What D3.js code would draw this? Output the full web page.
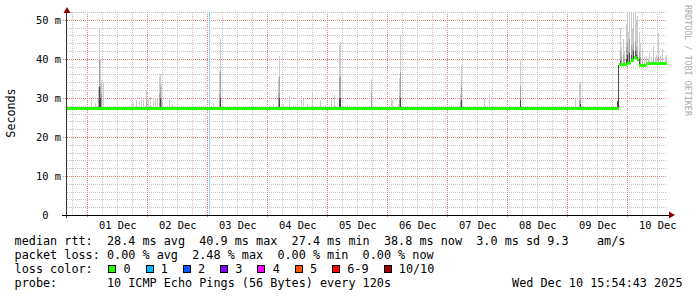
<!DOCTYPE html>
<html>
<head>
<meta charset="utf-8">
<script src="https://cdn.jsdelivr.net/npm/d3@7/dist/d3.min.js"></script>
<style>
  body { margin: 0; background: #fff; }
  svg text { font-family: "DejaVu Sans Mono", monospace; white-space: pre; }
</style>
</head>
<body>
<div id="chart"></div>
<script>
// Time window of the graph (10 days up to the moment it was made)
var startTime = "2025-11-30T15:54:43";
var endTime = "2025-12-10T15:54:43";

// Day labels sit at noon of each day
var dayNoons = ["2025-12-01T12:00", "2025-12-02T12:00", "2025-12-03T12:00", "2025-12-04T12:00", "2025-12-05T12:00",
                "2025-12-06T12:00", "2025-12-07T12:00", "2025-12-08T12:00", "2025-12-09T12:00", "2025-12-10T12:00"];

var yTicks = [0, 10, 20, 30, 40, 50];
var yTickLabels = ["0  ", "10 m", "20 m", "30 m", "40 m", "50 m"];

// Median rtt in ms, each value holds until the next time
var medianTimes = ["2025-11-30T15:54", "2025-12-09T20:42", "2025-12-09T23:54", "2025-12-10T01:31",
                   "2025-12-10T02:43", "2025-12-10T03:55", "2025-12-10T04:43", "2025-12-10T07:43"];
var medianValues = [27.3, 38.5, 38.9, 39.6, 40.3, 39.8, 38.3, 38.8];

// Smoke columns: time, highest ping, mid shade top, dark core top (ms)
var smoke = [
  ["2025-12-01T01:47", 29.7], ["2025-12-01T03:14", 28.8], ["2025-12-01T04:26", 32.9, 30.0],
  ["2025-12-01T04:50", 47.9, 39.7, 32.9], ["2025-12-01T05:14", 40.0, 33.0, 30.0], ["2025-12-01T05:48", 34.2, 31.0],
  ["2025-12-01T06:35", 33.8], ["2025-12-01T17:47", 28.5], ["2025-12-01T18:42", 28.7], ["2025-12-01T19:42", 29.5],
  ["2025-12-01T20:59", 29.1], ["2025-12-01T21:54", 30.3], ["2025-12-01T22:25", 29.4], ["2025-12-01T23:37", 31.9, 29.0],
  ["2025-12-02T00:42", 29.7], ["2025-12-02T01:30", 30.3], ["2025-12-02T02:25", 29.2], ["2025-12-02T03:23", 30.0],
  ["2025-12-02T04:01", 29.6], ["2025-12-02T04:49", 35.4, 31.0], ["2025-12-02T05:13", 36.2, 32.9, 30.0],
  ["2025-12-02T05:47", 33.5, 30.0], ["2025-12-02T06:18", 29.0], ["2025-12-02T09:06", 29.9], ["2025-12-02T10:06", 28.4],
  ["2025-12-03T02:26", 28.6], ["2025-12-03T04:49", 37.0, 31.0], ["2025-12-03T05:13", 45.1, 37.0, 30.0],
  ["2025-12-04T02:26", 28.4], ["2025-12-04T04:31", 35.0, 31.0], ["2025-12-04T04:50", 40.8, 35.6, 30.0],
  ["2025-12-04T06:26", 28.5], ["2025-12-04T08:50", 30.5], ["2025-12-04T13:47", 30.5], ["2025-12-04T14:26", 29.6],
  ["2025-12-04T16:02", 28.5], ["2025-12-04T18:02", 31.4], ["2025-12-04T21:14", 29.4], ["2025-12-04T23:23", 28.3],
  ["2025-12-05T01:38", 29.6], ["2025-12-05T02:50", 30.8], ["2025-12-05T04:50", 43.5, 35.0, 30.0],
  ["2025-12-05T05:14", 44.3, 35.5, 30.0], ["2025-12-05T07:07", 28.3], ["2025-12-05T17:38", 34.9, 31.0],
  ["2025-12-06T01:31", 29.8], ["2025-12-06T02:02", 29.4], ["2025-12-06T04:26", 28.4], ["2025-12-06T04:55", 35.0, 30.5],
  ["2025-12-06T05:14", 46.2, 36.7, 30.0], ["2025-12-07T01:47", 28.3], ["2025-12-07T05:07", 31.0, 29.0],
  ["2025-12-07T05:31", 38.5, 32.9, 29.5], ["2025-12-07T14:50", 29.7], ["2025-12-07T16:50", 30.9],
  ["2025-12-08T05:23", 39.6, 33.0, 29.5], ["2025-12-09T03:23", 29.7], ["2025-12-09T04:59", 33.5, 29.5],
  ["2025-12-09T05:23", 34.0, 30.0, 28.5], ["2025-12-09T20:18", 29.1, 29.1, 29.1], ["2025-12-09T20:41", 38.5, 38.5, 38.5],
  ["2025-12-09T21:14", 47.9, 42.0, 39.5], ["2025-12-09T21:47", 43.0, 40.5], ["2025-12-09T22:19", 45.0, 41.0],
  ["2025-12-09T22:55", 42.0, 40.0], ["2025-12-09T23:31", 49.0, 43.0, 40.0], ["2025-12-10T00:02", 51.8, 44.0, 41.0],
  ["2025-12-10T00:31", 47.0, 42.0], ["2025-12-10T00:59", 51.8, 45.0, 41.5], ["2025-12-10T01:31", 51.8, 43.5, 41.0],
  ["2025-12-10T02:02", 48.0, 42.5], ["2025-12-10T02:31", 51.8, 44.0, 42.0], ["2025-12-10T03:07", 51.8, 44.5, 42.0],
  ["2025-12-10T03:38", 50.0, 43.0, 41.0], ["2025-12-10T04:07", 51.0, 42.5, 40.5], ["2025-12-10T04:43", 47.0, 42.0, 40.0],
  ["2025-12-10T05:19", 44.0, 40.5], ["2025-12-10T05:55", 42.0, 39.5], ["2025-12-10T06:43", 40.5],
  ["2025-12-10T07:31", 40.8], ["2025-12-10T08:19", 40.2], ["2025-12-10T08:55", 41.5], ["2025-12-10T09:31", 40.5],
  ["2025-12-10T10:26", 43.2, 40.0], ["2025-12-10T11:07", 40.5], ["2025-12-10T11:43", 41.0],
  ["2025-12-10T12:26", 46.6, 40.5], ["2025-12-10T13:07", 40.8], ["2025-12-10T14:07", 42.5],
  ["2025-12-10T15:07", 40.5], ["2025-12-10T15:43", 41.0]
];

// Marker line
var markerTimes = ["2025-12-03T00:42"];

// Legend
var rttLine = "median rtt:  28.4 ms avg  40.9 ms max  27.4 ms min  38.8 ms now  3.0 ms sd 9.3    am/s";
var lossLine = "packet loss: 0.00 % avg  2.48 % max  0.00 % min  0.00 % now";
var lossLabels = ["0", "1", "2", "3", "4", "5", "6-9", "10/10"];
var lossColors = ["#26ff00", "#00b8ff", "#0059ff", "#7e00ff", "#ff00ff", "#ff5500", "#ff0000", "#a10000"];
var probeLine = "probe:       10 ICMP Echo Pings (56 Bytes) every 120s";
var stampText = "Wed Dec 10 15:54:43 2025";

var width = 697, height = 297;
var plotLeft = 67, plotRight = 667, plotTop = 12, plotBottom = 215;

var svg = d3.select("#chart").append("svg")
  .attr("width", width)
  .attr("height", height)
  .style("display", "block");

svg.append("rect").attr("width", width).attr("height", height).attr("fill", "#fff");

var parse = function(s) { return new Date(s); };
var x = d3.scaleTime().domain([parse(startTime), parse(endTime)]).range([plotLeft, plotRight]);
var y = d3.scaleLinear().domain([0, 52]).range([plotBottom, plotTop]);
var px = function(v) { return Math.round(v) + 0.5; };

// Grid
var grid = svg.append("g").attr("shape-rendering", "crispEdges");
var sixHours = d3.timeHour.every(6).range(parse(startTime), parse(endTime));
sixHours.forEach(function(t) {
  var major = t.getHours() === 0;
  grid.append("line")
    .attr("x1", px(x(t))).attr("x2", px(x(t)))
    .attr("y1", plotTop).attr("y2", major ? plotBottom + 3 : plotBottom)
    .attr("stroke", major ? "#e67c7c" : "#c4c4c4")
    .attr("stroke-dasharray", "1,1");
});
d3.range(2, 53, 2).forEach(function(v) {
  var major = v % 10 === 0;
  grid.append("line")
    .attr("x1", major ? plotLeft - 4 : plotLeft).attr("x2", plotRight)
    .attr("y1", px(y(v))).attr("y2", px(y(v)))
    .attr("stroke", major ? "#e67c7c" : "#c4c4c4")
    .attr("stroke-dasharray", "1,1");
});

// Marker
svg.selectAll(".marker").data(markerTimes).enter().append("line")
  .attr("x1", function(d) { return px(x(parse(d))); })
  .attr("x2", function(d) { return px(x(parse(d))); })
  .attr("y1", plotTop).attr("y2", plotBottom)
  .attr("stroke", "#93d2f0")
  .attr("shape-rendering", "crispEdges");

// median at a given time
var medianDates = medianTimes.map(parse);
function medianAt(t) {
  var i = d3.bisectRight(medianDates, t) - 1;
  return medianValues[Math.max(0, i)];
}

// Smoke
var smokeG = svg.append("g").attr("shape-rendering", "crispEdges");
var shades = [[1, "#cbcbcb"], [2, "#a4a4a4"], [3, "#4a4a4a"]];
smoke.forEach(function(d) {
  var t = parse(d[0]);
  var low = medianAt(t) - 0.3;
  var cx = Math.floor(x(t));
  shades.forEach(function(s) {
    var v = d[s[0]];
    if (v == null) return;
    smokeG.append("rect")
      .attr("x", cx).attr("width", 1)
      .attr("y", y(v)).attr("height", y(low) - y(v))
      .attr("fill", s[1]);
  });
});

// Median line, drawn as flat pieces
var medianG = svg.append("g");
medianTimes.forEach(function(t, i) {
  var t1 = i + 1 < medianTimes.length ? medianTimes[i + 1] : endTime;
  medianG.append("line")
    .attr("x1", x(parse(t))).attr("x2", x(parse(t1)))
    .attr("y1", y(medianValues[i])).attr("y2", y(medianValues[i]))
    .attr("stroke", lossColors[0])
    .attr("stroke-width", 3);
});

// Axes lines and arrows
var axisG = svg.append("g").attr("shape-rendering", "crispEdges");
axisG.append("line").attr("x1", plotLeft - 0.5).attr("x2", plotLeft - 0.5)
  .attr("y1", plotBottom + 3).attr("y2", plotTop - 2)
  .attr("stroke", "#333");
axisG.append("line").attr("x1", plotLeft - 5).attr("x2", plotRight + 3)
  .attr("y1", plotBottom + 0.5).attr("y2", plotBottom + 0.5)
  .attr("stroke", "#000");
svg.append("path").attr("d", "M63.5,13 L70.5,13 L67,7 Z").attr("fill", "#8f0000");
svg.append("path").attr("d", "M669,211.5 L669,218.5 L675,215 Z").attr("fill", "#8f0000");

// Tick labels via d3 axes
var xAxis = d3.axisBottom(x)
  .tickValues(dayNoons.map(parse))
  .tickFormat(d3.timeFormat("%d %b"))
  .tickSize(0);
var xg = svg.append("g").attr("transform", "translate(0," + plotBottom + ")").call(xAxis);
xg.select(".domain").remove();
xg.selectAll("text").attr("y", 13.5).attr("dy", null)
  .attr("font-size", "10.4px").attr("font-family", "DejaVu Sans Mono").attr("fill", "#000");

var yAxis = d3.axisLeft(y)
  .tickValues(yTicks)
  .tickFormat(function(d, i) { return yTickLabels[i]; })
  .tickSize(0).tickPadding(0);
var yg = svg.append("g").attr("transform", "translate(61,0)").call(yAxis);
yg.select(".domain").remove();
yg.selectAll("text").attr("x", 0).attr("dy", null).attr("y", 3.3)
  .attr("font-size", "10.4px").attr("font-family", "DejaVu Sans Mono").attr("fill", "#000");

// Unit label
svg.append("text")
  .attr("transform", "translate(15,113) rotate(-90)")
  .attr("text-anchor", "middle")
  .attr("font-size", "11.7px")
  .text("Seconds");

// Watermark
svg.append("text")
  .attr("transform", "translate(684.5,5) rotate(90)")
  .attr("font-size", "8.4px")
  .attr("fill", "#ababab")
  .text("RRDTOOL / TOBI OETIKER");

// Legend
var leg = svg.append("g").attr("font-size", "11.8px").attr("fill", "#000");
function put(txt, lx, ly, anchor) {
  leg.append("text").attr("x", lx).attr("y", ly).attr("text-anchor", anchor || "start").text(txt);
}

put(rttLine, 14.6, 245);
put(lossLine, 14.6, 259);

put("loss color:", 14.6, 273);
var charW = 7.13, boxX = 108.3;
lossLabels.forEach(function(lbl, i) {
  leg.append("rect")
    .attr("x", Math.round(boxX) + 0.5).attr("y", 265.5)
    .attr("width", 7).attr("height", 7)
    .attr("fill", lossColors[i]).attr("stroke", "#000")
    .attr("shape-rendering", "crispEdges");
  var lx = boxX + 15.2;
  put(lbl, lx, 273);
  boxX = lx + 0.7 + (lbl.length + 2) * charW;
});

put(probeLine, 14.6, 287);
put(stampText, 682.5, 287, "end");
</script>
</body>
</html>
